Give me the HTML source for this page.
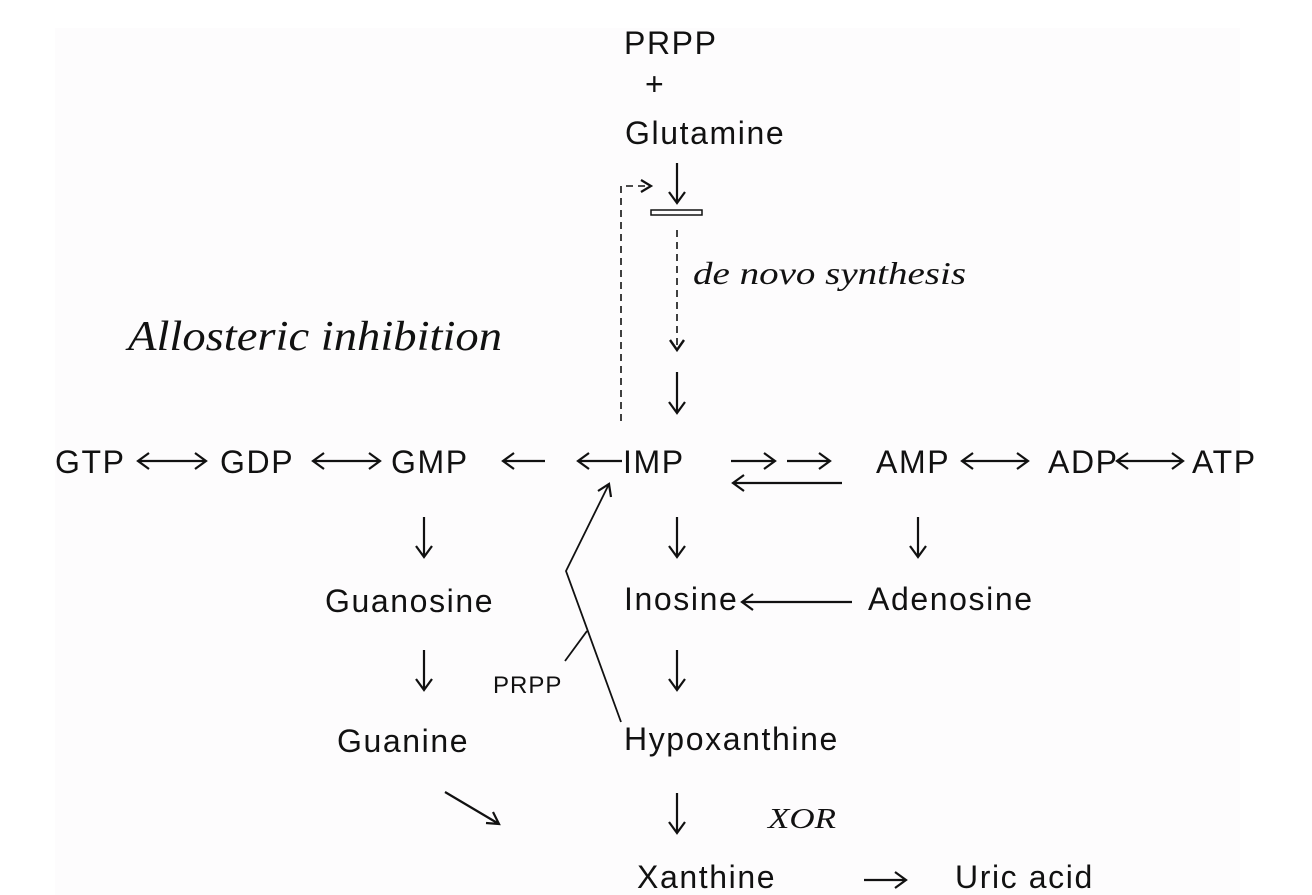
<!DOCTYPE html>
<html><head><meta charset="utf-8"><style>
html,body{margin:0;padding:0;background:#fff;}
svg{display:block;}
.t{font-family:"Liberation Sans",sans-serif;font-size:32px;fill:#111;letter-spacing:1.6px;}
.i{font-family:"Liberation Serif",serif;font-style:italic;fill:#111;}
</style></head><body>
<svg width="1312" height="895" viewBox="0 0 1312 895">
<rect x="55" y="28" width="1185" height="867" fill="#fdfcfd"/>
<g class="t">
<text x="624" y="54">PRPP</text>
<text x="645" y="95">+</text>
<text x="625" y="144">Glutamine</text>
<text x="55" y="473">GTP</text>
<text x="220" y="473">GDP</text>
<text x="391" y="473">GMP</text>
<text x="623" y="473">IMP</text>
<text x="876" y="473">AMP</text>
<text x="1048" y="473">ADP</text>
<text x="1192" y="473">ATP</text>
<text x="325" y="612">Guanosine</text>
<text x="624" y="610">Inosine</text>
<text x="868" y="610">Adenosine</text>
<text x="337" y="752">Guanine</text>
<text x="624" y="750">Hypoxanthine</text>
<text x="637" y="888">Xanthine</text>
<text x="955" y="888">Uric acid</text>
<text x="493" y="693" style="font-size:24px;letter-spacing:1px">PRPP</text>
</g>
<text class="i" x="128" y="350" font-size="42" textLength="374" lengthAdjust="spacingAndGlyphs">Allosteric inhibition</text>
<text class="i" x="693" y="284" font-size="32" textLength="273" lengthAdjust="spacingAndGlyphs">de novo synthesis</text>
<text class="i" x="768" y="828" font-size="29" textLength="68" lengthAdjust="spacingAndGlyphs">XOR</text>
<g stroke="#111" stroke-width="2.2" fill="none">
<path d="M677 163V203M669 192L677 203L685 192"/>
<path d="M677 372V413M669 402L677 413L685 402"/>
<path d="M677 517V557M669 546L677 557L685 546"/>
<path d="M677 650V690M669 679L677 690L685 679"/>
<path d="M677 793V833M669 822L677 833L685 822"/>
<path d="M424 517V557M416 546L424 557L432 546"/>
<path d="M424 650V690M416 679L424 690L432 679"/>
<path d="M918 517V557M910 546L918 557L926 546"/>
<path d="M138 461H206M149 453L138 461L149 469M195 453L206 461L195 469"/>
<path d="M313 461H380M324 453L313 461L324 469M369 453L380 461L369 469"/>
<path d="M962 461H1028M973 453L962 461L973 469M1017 453L1028 461L1017 469"/>
<path d="M1117 461H1183M1128 453L1117 461L1128 469M1172 453L1183 461L1172 469"/>
<path d="M503 461H545M514 453L503 461L514 469"/>
<path d="M578 461H622M589 453L578 461L589 469"/>
<path d="M733 483H842M744 475L733 483L744 491"/>
<path d="M742 602H852M753 594L742 602L753 610"/>
<path d="M731 461H775M764 453L775 461L764 469"/>
<path d="M787 461H830M819 453L830 461L819 469"/>
<path d="M864 880H906M895 872L906 880L895 888"/>
<path d="M445 792L499 824M486 823L499 824L493 812"/>
<path d="M621 722L566 571L609 484" stroke-width="1.8"/>
<path d="M598 491L609 484L611 497"/>
<path d="M565 661L587 631" stroke-width="1.8"/>
<path d="M621 421V186H650" stroke-dasharray="7,5" stroke-width="1.6"/>
<path d="M641 180L651 186L641 192" stroke-width="2.2"/>
<path d="M677 230V350" stroke-dasharray="7,5" stroke-width="1.6"/>
<path d="M670 340L677 350L684 340" stroke-width="2.4"/>
</g>
<rect x="651" y="210" width="51" height="5" fill="none" stroke="#111" stroke-width="1.5"/>
</svg>
</body></html>
